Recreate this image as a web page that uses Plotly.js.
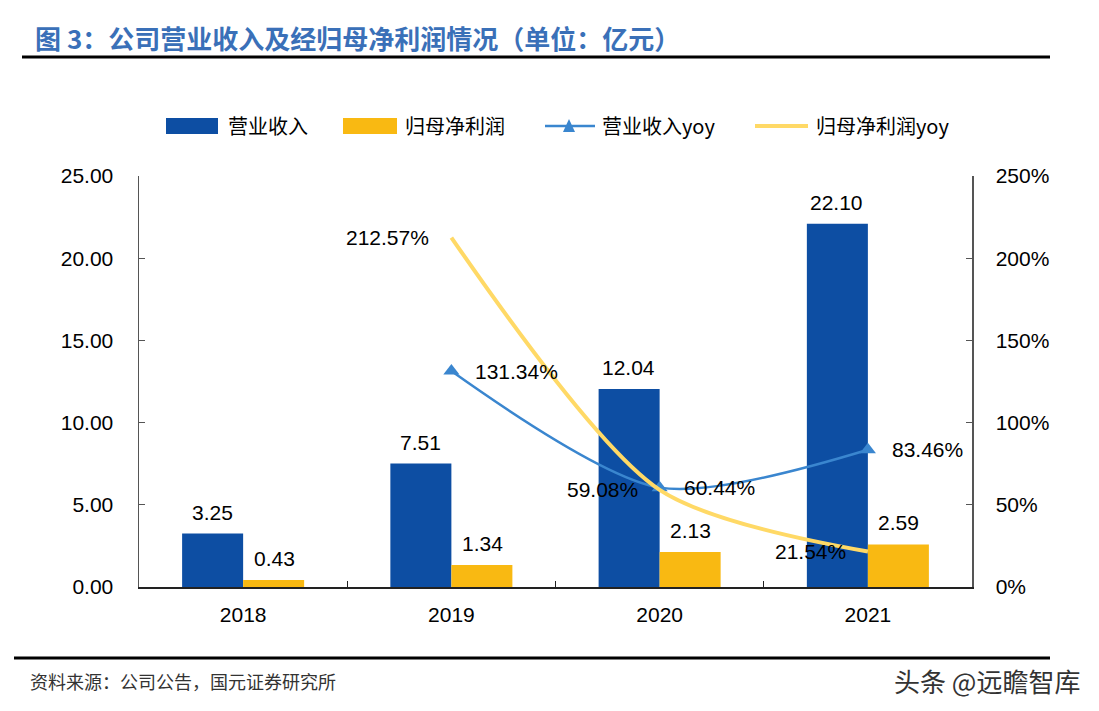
<!DOCTYPE html>
<html>
<head>
<meta charset="utf-8">
<script src="https://cdn.plot.ly/plotly-3.0.1.min.js"></script>
<style>html,body{margin:0;padding:0;background:#fff;}#chart{width:1099px;height:711px;}</style>
</head>
<body>
<div id="chart"></div>
<script>
const years = ['2018', '2019', '2020', '2021'];
const revenue = [3.25, 7.51, 12.04, 22.10];
const netProfit = [0.43, 1.34, 2.13, 2.59];
const revenueYoy = [null, 1.3134, 0.6044, 0.8346];
const profitYoy = [null, 2.1257, 0.5908, 0.2154];
const seriesNames = ['营业收入', '归母净利润', '营业收入yoy', '归母净利润yoy'];

const blue = '#0d4ea3';
const orange = '#f9b912';
const lineBlue = '#3a86cf';
const lineYellow = '#ffd966';
const numFont = 'Liberation Sans, Arial, sans-serif';
const cjkFont = 'Noto Sans CJK SC, sans-serif';

const traces = [
  {type: 'bar', name: seriesNames[0], x: years, y: revenue, marker: {color: blue}, yaxis: 'y', hoverinfo: 'skip'},
  {type: 'bar', name: seriesNames[1], x: years, y: netProfit, marker: {color: orange}, yaxis: 'y', hoverinfo: 'skip'},
  {type: 'scatter', mode: 'lines+markers', name: seriesNames[2], x: years, y: revenueYoy, yaxis: 'y2',
   line: {color: lineBlue, width: 2.5, shape: 'spline', smoothing: 0.8},
   marker: {symbol: 'triangle-up', size: 14, color: lineBlue}},
  {type: 'scatter', mode: 'lines', name: seriesNames[3], x: years, y: profitYoy, yaxis: 'y2',
   line: {color: lineYellow, width: 4, shape: 'spline', smoothing: 0.8}}
];

const annotations = [];
const lblFont = {family: numFont, size: 21, color: '#000'};
years.forEach((yr, i) => {
  annotations.push({xref: 'x', yref: 'y', x: i, y: revenue[i], xshift: -31, yshift: 8,
    text: revenue[i].toFixed(2), showarrow: false, xanchor: 'center', yanchor: 'bottom', font: lblFont});
  annotations.push({xref: 'x', yref: 'y', x: i, y: netProfit[i], xshift: 31, yshift: 8,
    text: netProfit[i].toFixed(2), showarrow: false, xanchor: 'center', yanchor: 'bottom', font: lblFont});
  if (revenueYoy[i] !== null) {
    annotations.push({xref: 'x', yref: 'y2', x: i, y: revenueYoy[i], xshift: 22,
      text: (revenueYoy[i] * 100).toFixed(2) + '%', showarrow: false, xanchor: 'left', yanchor: 'middle', font: lblFont});
  }
  if (profitYoy[i] !== null) {
    annotations.push({xref: 'x', yref: 'y2', x: i, y: profitYoy[i], xshift: -20,
      text: (profitYoy[i] * 100).toFixed(2) + '%', showarrow: false, xanchor: 'right', yanchor: 'middle', font: lblFont});
  }
});

// pixel -> paper helpers
const L = 139, R = 972, T = 176, B = 587;
const px = v => (v - L) / (R - L);
const py = v => (B - v) / (B - T);

annotations.push({xref: 'paper', yref: 'paper', x: px(33), y: py(37), xanchor: 'left', yanchor: 'middle',
  text: '<b>图 3：公司营业收入及经归母净利润情况（单位：亿元）</b>', showarrow: false,
  font: {family: cjkFont, size: 26, color: '#3a70b8'}});
annotations.push({xref: 'paper', yref: 'paper', x: px(28), y: py(681), xanchor: 'left', yanchor: 'middle',
  text: '资料来源：公司公告，国元证券研究所', showarrow: false,
  font: {family: cjkFont, size: 18, color: '#333'}});
annotations.push({xref: 'paper', yref: 'paper', x: px(1082), y: py(680), xanchor: 'right', yanchor: 'middle',
  text: '头条 @远瞻智库', showarrow: false,
  font: {family: cjkFont, size: 26, color: '#333'}});

const shapes = [
  {type: 'line', xref: 'paper', yref: 'paper', x0: px(22), x1: px(1050), y0: py(57), y1: py(57), line: {color: '#000', width: 3}},
  {type: 'line', xref: 'paper', yref: 'paper', x0: px(14), x1: px(1050), y0: py(658), y1: py(658), line: {color: '#000', width: 3}}
];

// custom legend
const legY = 126;
const legFont = {family: cjkFont, size: 20, color: '#000'};
shapes.push({type: 'rect', xref: 'paper', yref: 'paper', x0: px(166), x1: px(218), y0: py(118), y1: py(134), fillcolor: blue, line: {width: 0}});
shapes.push({type: 'rect', xref: 'paper', yref: 'paper', x0: px(343), x1: px(397), y0: py(118), y1: py(134), fillcolor: orange, line: {width: 0}});
shapes.push({type: 'line', xref: 'paper', yref: 'paper', x0: px(545), x1: px(595), y0: py(legY), y1: py(legY), line: {color: lineBlue, width: 2.5}});
shapes.push({type: 'path', xref: 'paper', yref: 'paper',
  path: `M ${px(563)} ${py(legY + 6)} L ${px(575)} ${py(legY + 6)} L ${px(569)} ${py(legY - 7)} Z`,
  fillcolor: lineBlue, line: {width: 0}});
shapes.push({type: 'line', xref: 'paper', yref: 'paper', x0: px(755), x1: px(808), y0: py(legY), y1: py(legY), line: {color: lineYellow, width: 4}});
[[226, 0], [403, 1], [600, 2], [814, 3]].forEach(([x, k]) => {
  annotations.push({xref: 'paper', yref: 'paper', x: px(x), y: py(legY), xanchor: 'left', yanchor: 'middle',
    text: seriesNames[k], showarrow: false, font: legFont});
});

const tickFont = {family: numFont, size: 21, color: '#000'};
const layout = {
  width: 1099, height: 711,
  margin: {l: L, r: 1099 - R, t: T, b: 711 - B, pad: 0},
  paper_bgcolor: '#fff', plot_bgcolor: '#fff',
  barmode: 'group', bargap: 0.414, bargroupgap: 0,
  showlegend: false,
  xaxis: {type: 'category', range: [-0.5, 3.5], showline: true, linecolor: '#222', linewidth: 1.5, ticks: 'inside',
    tickson: 'boundaries', ticklen: 6, tickcolor: '#222', showgrid: false, zeroline: false,
    tickfont: tickFont, ticklabelstandoff: 8},
  yaxis: {range: [0, 25], dtick: 5, tickformat: '.2f', showline: true, linecolor: '#555', linewidth: 1.5,
    ticks: 'inside', ticklen: 6, tickcolor: '#555', showgrid: false, zeroline: false,
    tickfont: tickFont, ticklabelstandoff: 20},
  yaxis2: {range: [0, 2.5], dtick: 0.5, tickformat: '.0%', overlaying: 'y', side: 'right',
    showline: true, linecolor: '#555', linewidth: 1.5, ticks: 'inside', ticklen: 6, tickcolor: '#555',
    showgrid: false, zeroline: false, tickfont: tickFont, ticklabelstandoff: 18},
  annotations: annotations,
  shapes: shapes
};

Plotly.newPlot('chart', traces, layout, {displayModeBar: false, staticPlot: true});
</script>
</body>
</html>
